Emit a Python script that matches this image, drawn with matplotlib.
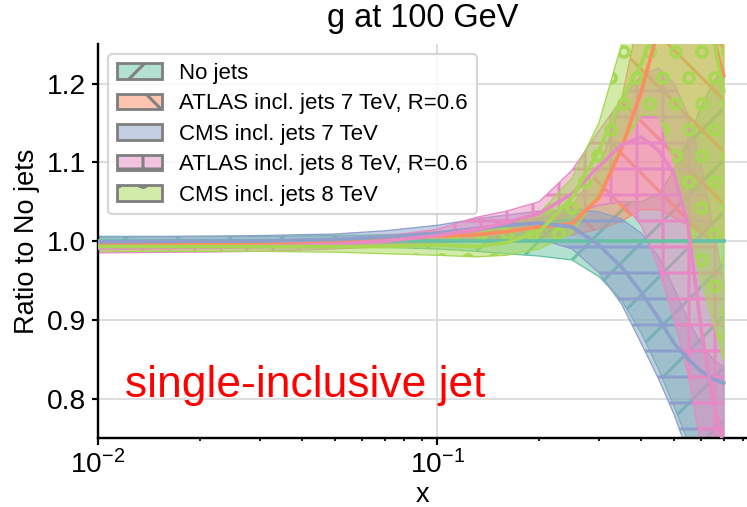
import matplotlib
matplotlib.use('Agg')
import matplotlib.pyplot as plt
import matplotlib.patches as mpatches
from matplotlib.ticker import FixedLocator

plt.rcParams['font.family'] = ['Liberation Sans', 'DejaVu Sans']
plt.rcParams['mathtext.fontset'] = 'custom'
plt.rcParams['mathtext.rm'] = 'Liberation Sans'
plt.rcParams['mathtext.it'] = 'Liberation Sans:italic'
plt.rcParams['hatch.linewidth'] = 1.4

# x grid of the PDF ratio curves
x = [0.01, 0.02, 0.03, 0.05, 0.07, 0.1, 0.13, 0.16, 0.2, 0.25,
     0.3, 0.35, 0.4, 0.45, 0.5, 0.55, 0.6, 0.65, 0.7]

labels = ['No jets', 'ATLAS incl. jets 7 TeV, R=0.6', 'CMS incl. jets 7 TeV',
          'ATLAS incl. jets 8 TeV, R=0.6', 'CMS incl. jets 8 TeV']

# No jets
nojets_cv = [1.0] * 19
nojets_lo = [0.994, 0.994, 0.994, 0.993, 0.992, 0.99, 0.987, 0.984, 0.981, 0.976,
             0.955, 0.925, 0.883, 0.837, 0.79, 0.745, 0.70, 0.68, 0.66]
nojets_hi = [1.006, 1.006, 1.006, 1.007, 1.008, 1.01, 1.014, 1.02, 1.028, 1.038,
             1.046, 1.05, 1.05, 1.06, 1.09, 1.13, 1.17, 1.20, 1.22]

# ATLAS 7 TeV
atlas7_cv = [0.996, 0.996, 0.997, 0.999, 1.002, 1.006, 1.008, 1.012, 1.018, 1.022,
             1.055, 1.118, 1.19, 1.27, 1.32, 1.33, 1.31, 1.26, 1.21]
atlas7_lo = [0.993, 0.993, 0.994, 0.995, 0.997, 1.0, 1.0, 1.002, 1.005, 1.008,
             1.015, 1.025, 1.04, 1.04, 1.03, 1.02, 1.01, 1.0, 1.0]
atlas7_hi = [0.999, 0.999, 1.0, 1.003, 1.007, 1.012, 1.016, 1.022, 1.03, 1.045,
             1.09, 1.18, 1.3, 1.4, 1.5, 1.55, 1.55, 1.5, 1.45]

# CMS 7 TeV
cms7_cv = [0.999, 1.0, 1.0, 1.002, 1.005, 1.01, 1.016, 1.02, 1.023, 1.018,
           0.995, 0.967, 0.935, 0.902, 0.87, 0.85, 0.835, 0.825, 0.82]
cms7_lo = [0.993, 0.994, 0.994, 0.995, 0.997, 0.998, 1.0, 1.003, 1.003, 0.99,
           0.96, 0.92, 0.87, 0.825, 0.78, 0.73, 0.69, 0.66, 0.63]
cms7_hi = [1.005, 1.006, 1.007, 1.009, 1.013, 1.02, 1.028, 1.033, 1.038, 1.04,
           1.037, 1.028, 1.01, 0.98, 0.94, 0.9, 0.87, 0.85, 0.84]

# ATLAS 8 TeV
atlas8_cv = [0.991, 0.992, 0.993, 0.996, 1.0, 1.007, 1.015, 1.023, 1.035, 1.06,
             1.095, 1.122, 1.132, 1.115, 1.085, 1.02, 0.89, 0.80, 0.74]
atlas8_lo = [0.985, 0.986, 0.987, 0.99, 0.993, 0.998, 1.003, 1.01, 1.02, 1.035,
             1.045, 1.05, 1.02, 0.965, 0.9, 0.83, 0.74, 0.70, 0.68]
atlas8_hi = [0.997, 0.997, 0.998, 1.002, 1.006, 1.015, 1.03, 1.038, 1.05, 1.09,
             1.14, 1.18, 1.21, 1.22, 1.2, 1.16, 1.1, 1.02, 0.95]

# CMS 8 TeV
cms8_cv = [0.993, 0.993, 0.993, 0.993, 0.993, 0.995, 0.993, 0.998, 1.012, 1.055,
           1.115, 1.18, 1.225, 1.28, 1.33, 1.36, 1.35, 1.26, 1.19]
cms8_lo = [0.987, 0.987, 0.987, 0.986, 0.984, 0.982, 0.98, 0.982, 0.99, 1.01,
           1.06, 1.12, 1.16, 1.16, 1.10, 1.02, 0.95, 0.90, 0.85]
cms8_hi = [0.998, 0.998, 0.998, 0.999, 1.001, 1.005, 1.01, 1.018, 1.035, 1.08,
           1.15, 1.25, 1.35, 1.45, 1.55, 1.6, 1.6, 1.55, 1.5]

colors = ['#66c2a5', '#fc8d62', '#8da0cb', '#e78ac3', '#a6d854']
hatches = ['/', '\\', '-', '+', 'o']

series = [
    (nojets_cv, nojets_lo, nojets_hi),
    (atlas7_cv, atlas7_lo, atlas7_hi),
    (cms7_cv, cms7_lo, cms7_hi),
    (atlas8_cv, atlas8_lo, atlas8_hi),
    (cms8_cv, cms8_lo, cms8_hi),
]

dpi = 156
fig = plt.figure(figsize=(747 / dpi, 507 / dpi), dpi=dpi)
ax = fig.add_axes([0.1312, 0.136, 0.8688, 0.777])

# bands first, central lines on top
for (cv, lo, hi), c, h in zip(series, colors, hatches):
    rgba = matplotlib.colors.to_rgba(c, 0.5)
    ax.fill_between(x, lo, hi, facecolor=rgba, edgecolor=c, hatch=h, linewidth=0.6, zorder=2)
for (cv, lo, hi), c in zip(series, colors):
    ax.plot(x, cv, color=c, lw=1.7, zorder=3)

ax.set_xscale('log')
ax.set_xlim(0.01, 0.82)
ax.set_ylim(0.75, 1.25)
ax.yaxis.set_major_locator(FixedLocator([0.8, 0.9, 1.0, 1.1, 1.2]))
ax.grid(True, which='major', color='#d9d9d9', lw=0.8)
ax.set_axisbelow(True)
for s in ['top', 'right']:
    ax.spines[s].set_visible(False)
for s in ['left', 'bottom']:
    ax.spines[s].set_linewidth(1.1)
ax.tick_params(axis='both', which='major', labelsize=13, length=3, width=1.0, pad=2.5)
ax.tick_params(axis='x', which='minor', length=1.6, width=0.8)

ax.set_title('g at 100 GeV', fontsize=15, pad=8)
ax.set_xlabel('x', fontsize=12.5, labelpad=1.5)
ax.set_ylabel('Ratio to No jets', fontsize=12.5, labelpad=3)

handles = [mpatches.Patch(facecolor=matplotlib.colors.to_rgba(c, 0.5), edgecolor='grey',
                          hatch=h, linewidth=1.3, label=l)
           for c, h, l in zip(colors, hatches, labels)]
ax.legend(handles=handles, loc='upper left', fontsize=10.3, borderaxespad=0.45,
          labelspacing=0.42)

ax.text(0.042, 0.105, 'single-inclusive jet', color='red', fontsize=20.5,
        transform=ax.transAxes)

fig.savefig('out.png', dpi=dpi)
